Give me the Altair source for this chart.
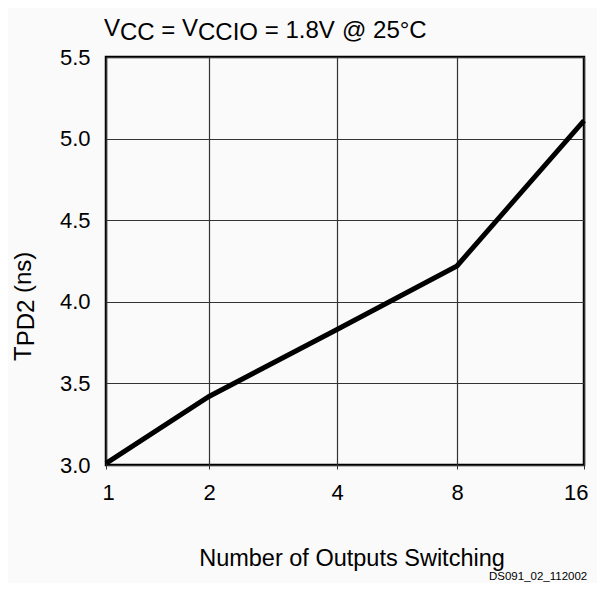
import altair as alt
import pandas as pd

# ---- data ----
outputs = [1, 2, 4, 8, 16]
tpd2 = [3.01, 3.42, 3.83, 4.22, 5.11]
x_ticks = [1, 2, 4, 8, 16]
y_ticks = [3.0, 3.5, 4.0, 4.5, 5.0, 5.5]

df = pd.DataFrame({"n": outputs, "t": tpd2})

W, H = 478, 408
FONT = "Liberation Sans"
# the x axis of the original is not evenly spaced: piecewise linear scale
x_scale = alt.Scale(type="linear", domain=[1, 2, 4, 8, 16], range=[0, 103, 231, 351, 478])
y_scale = alt.Scale(domain=[3.0, 5.5], nice=False, zero=False)

line = alt.Chart(df).mark_line(color="black", strokeWidth=5, clip=False).encode(
    x=alt.X("n:Q", scale=x_scale,
            axis=alt.Axis(values=x_ticks, title=None, grid=True, gridColor="#333333",
                          gridWidth=1.2, domain=False, tickSize=4, tickColor="#333333",
                          labelFont=FONT, labelFontSize=22, labelColor="black",
                          labelPadding=13, labelFlush=True, labelFlushOffset=4,
                          format="d")),
    y=alt.Y("t:Q", scale=y_scale,
            axis=alt.Axis(values=y_ticks, title=None, grid=True, gridColor="#333333",
                          gridWidth=1.2, domain=False, ticks=False,
                          labelFont=FONT, labelFontSize=22, labelColor="black",
                          labelPadding=16, labelFlush=False, format=".1f")),
)

def txt(s, x, y, size=24, angle=0, align="left"):
    return alt.Chart(pd.DataFrame({"s": [s]})).mark_text(
        font=FONT, fontSize=size, color="black", align=align, baseline="alphabetic",
        angle=angle, clip=False
    ).encode(text="s:N", x=alt.value(x), y=alt.value(y))

# plot origin in page coordinates is (106, 57)
OX, OY = 106, 57
F = 24
SP = 0.278
w = {"V": 0.667, "CC": 1.444, "=": 0.584, "CCIO": 2.5}
parts = []
x0 = 104
for s, dy, gap in [("V", -2.5, 0), ("CC", 2.0, SP), ("=", 0, SP), ("V", -2.5, 0),
                   ("CCIO", 2.0, SP)]:
    parts.append(txt(s, x0 - OX, 38 + dy - OY, F))
    x0 += (w[s] + gap) * F
parts.append(txt("= 1.8V", x0 - OX, 38 - OY, F))
parts.append(txt("@ 25°C", 342 - OX, 38 - OY, F))

# y title pieces (rotated)
FY = 24
ystart = 361
parts.append(txt("T", 31 - OX, ystart - OY, FY, angle=270))
ystart -= 0.611 * FY
parts.append(txt("PD2", 34 - OX, ystart - OY, FY, angle=270))
ystart -= (1.945 + SP) * FY
parts.append(txt("(ns)", 31 - OX, ystart - OY, FY, angle=270))

parts.append(txt("Number of Outputs Switching", 352 - OX, 566 - OY, 23.5, align="center"))
parts.append(txt("DS091_02_112002", 489 - OX, 580 - OY, 11.5))

chart = alt.layer(line, *parts).properties(
    width=W, height=H,
    autosize=alt.AutoSizeParams(type="none"),
    padding={"left": 98, "top": 49, "right": 13, "bottom": 118},
    background="#fafafa",
).configure_view(stroke="black", strokeWidth=2.5)

chart.save("out.html", embed_options={"renderer": "svg", "actions": False})
